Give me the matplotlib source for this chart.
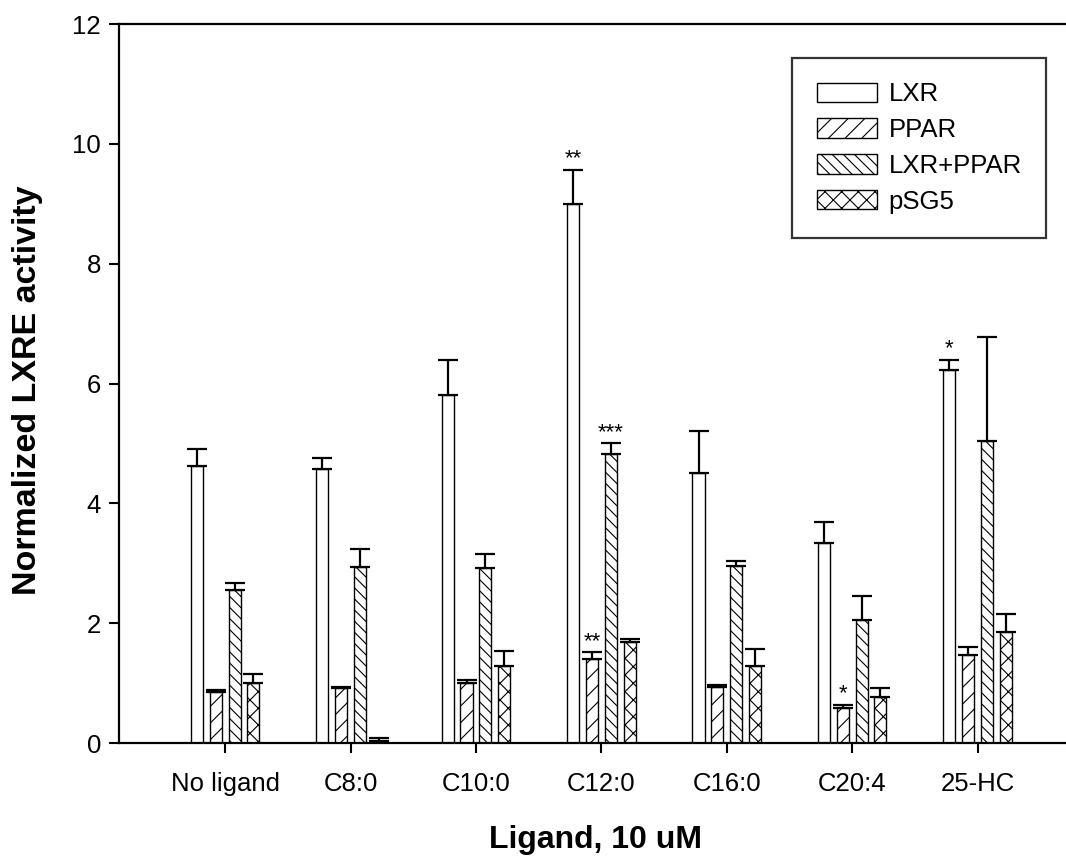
import numpy as np
import matplotlib
matplotlib.use("Agg")
import matplotlib.pyplot as plt

plt.rcParams['font.family'] = ['Liberation Sans', 'DejaVu Sans']
plt.rcParams['hatch.linewidth'] = 0.8

categories = ["No ligand", "C8:0", "C10:0", "C12:0", "C16:0", "C20:4", "25-HC"]
series_names = ["LXR", "PPAR", "LXR+PPAR", "pSG5"]

lxr = [4.62, 4.58, 5.81, 9.00, 4.51, 3.34, 6.22]
lxr_top = [4.91, 4.75, 6.39, 9.57, 5.21, 3.69, 6.40]
ppar = [0.85, 0.91, 1.01, 1.41, 0.94, 0.58, 1.47]
ppar_top = [0.89, 0.93, 1.05, 1.52, 0.96, 0.64, 1.61]
lxr_ppar = [2.56, 2.94, 2.92, 4.83, 2.95, 2.05, 5.04]
lxr_ppar_top = [2.67, 3.24, 3.15, 5.00, 3.04, 2.46, 6.77]
psg5 = [1.00, 0.03, 1.29, 1.68, 1.29, 0.76, 1.86]
psg5_top = [1.15, 0.08, 1.53, 1.74, 1.57, 0.92, 2.15]

# significance annotations: (category index, series index, label)
stars = [(3, 0, "**"), (3, 1, "**"), (3, 2, "***"), (5, 1, "*"), (6, 0, "*")]

means = [lxr, ppar, lxr_ppar, psg5]
tops = [lxr_top, ppar_top, lxr_ppar_top, psg5_top]
hatches = [None, '//', '\\\\\\', 'xx']

fig = plt.figure(figsize=(10.66, 8.67), dpi=100)
ax = fig.add_axes([0.1116, 0.143, 0.8984, 0.8293])

x = np.arange(len(categories))
step = 0.15
width = 0.097
offsets = (np.arange(4) - 1.5) * step

for i in range(4):
    m = np.array(means[i])
    t = np.array(tops[i])
    pos = x + offsets[i]
    ax.bar(pos, m, width=width, facecolor='white', edgecolor='black',
           linewidth=1.0, hatch=hatches[i], label=series_names[i], zorder=2)
    err = np.vstack([np.zeros_like(m), t - m])
    ax.errorbar(pos, m, yerr=err, fmt='none', ecolor='black',
                elinewidth=1.6, capsize=7.5, capthick=1.6, zorder=3)

for ci, si, lab in stars:
    ax.text(x[ci] + offsets[si], tops[si][ci], lab, ha='center',
            va='bottom', fontsize=16)

ax.set_xlim(-0.847, 6.79)
ax.set_ylim(0, 12)
ax.set_yticks(np.arange(0, 13, 2))
ax.set_xticks(x)
ax.set_xticklabels(categories)
ax.tick_params(axis='both', direction='out', length=7, width=1.5,
               labelsize=18.5, pad=6)
ax.tick_params(axis='x', pad=14)

for s in ['left', 'bottom', 'top']:
    ax.spines[s].set_linewidth(1.6)
ax.spines['right'].set_visible(False)

ax.set_xlabel("Ligand, 10 uM", fontsize=23, fontweight='bold')
ax.xaxis.set_label_coords(0.498, -0.135)
ax.xaxis.label.set_va('center')
ax.set_ylabel("Normalized LXRE activity", fontsize=24.5, fontweight='bold')
ax.yaxis.set_label_coords(-0.096, 0.491)
ax.yaxis.label.set_va('center')
ax.yaxis.label.set_ha('center')

leg = ax.legend(loc='upper left', bbox_to_anchor=(0.703, 0.953),
                fontsize=18.5, frameon=True, fancybox=False,
                edgecolor='black', handlelength=2.35, handleheight=0.78,
                handletextpad=0.45, labelspacing=0.46, borderpad=0.95,
                borderaxespad=0)
leg.get_frame().set_linewidth(1.6)

fig.savefig("out.png", dpi=100)
